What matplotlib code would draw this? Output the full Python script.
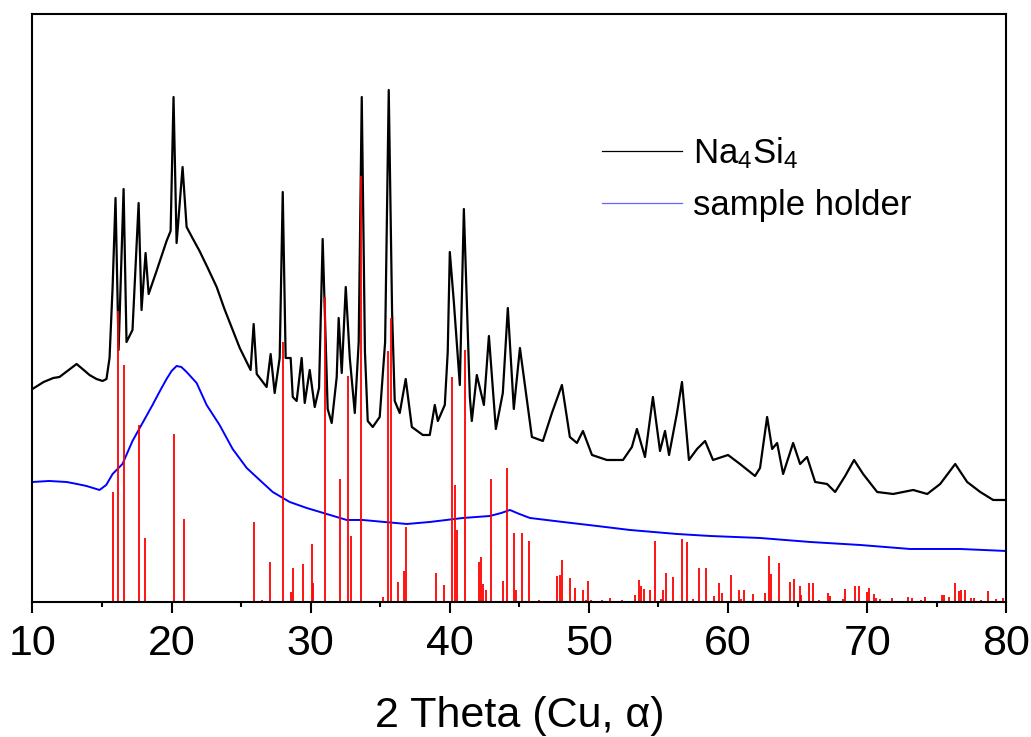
import numpy as np
import matplotlib.pyplot as plt

plt.rcParams['font.family'] = ['Liberation Sans', 'DejaVu Sans']
plt.rcParams['mathtext.fontset'] = 'custom'
plt.rcParams['mathtext.rm'] = 'Liberation Sans'
plt.rcParams['mathtext.it'] = 'Liberation Sans:italic'

# Na4Si4 pattern (2theta, intensity a.u.)
na_tt = [10.0, 10.8, 11.5, 11.94, 12.6, 13.17, 13.6, 14.10, 14.6, 15.04, 15.32,
         15.54, 15.76, 15.97, 16.19, 16.55, 16.76, 17.19, 17.63, 17.84, 18.13,
         18.35, 18.92, 19.64, 19.93, 20.14, 20.36, 20.79, 21.08, 21.5, 22.01,
         22.6, 23.24, 23.8, 24.39, 24.9, 25.40, 25.68, 25.90, 26.12, 26.83,
         27.12, 27.41, 27.77, 27.99, 28.20, 28.56, 28.71, 28.99, 29.35, 29.57,
         29.93, 30.29, 30.6, 30.86, 31.22, 31.51, 31.87, 32.01, 32.23, 32.52,
         32.81, 33.17, 33.45, 33.67, 33.9, 34.10, 34.46, 34.96, 35.35, 35.61,
         35.85, 36.04, 36.40, 36.83, 37.27, 38.06, 38.56, 38.92, 39.14, 39.64,
         39.85, 40.00, 40.29, 40.72, 41.01, 41.44, 41.58, 41.94, 42.45, 42.81,
         43.31, 43.81, 44.17, 44.60, 45.04, 45.40, 45.90, 46.69, 47.34, 48.06,
         48.63, 49.14, 49.57, 50.22, 51.29, 52.45, 53.09, 53.45, 54.03, 54.60,
         55.11, 55.47, 55.76, 56.33, 56.69, 57.19, 57.77, 58.35, 58.92, 60.00,
         60.86, 61.94, 62.30, 62.81, 63.17, 63.53, 63.96, 64.68, 65.18, 65.68,
         66.26, 67.12, 67.70, 68.42, 69.06, 69.71, 70.72, 71.87, 73.31, 74.32,
         75.25, 76.33, 77.19, 78.13, 79.06, 80.0]
na_int = [213, 220, 224, 225, 232, 238, 233, 227, 223, 221, 223,
          244, 315, 404, 252, 413, 260, 272, 399, 292, 349,
          308, 331, 361, 371, 505, 359, 435, 375, 364, 351,
          334, 315, 293, 272, 254, 240, 232, 278, 228, 215,
          248, 209, 244, 410, 244, 244, 205, 201, 244, 199,
          232, 195, 214, 363, 193, 179, 225, 284, 229, 315,
          244, 189, 260, 505, 250, 181, 175, 185, 260, 512,
          290, 201, 189, 223, 175, 167, 167, 197, 181, 197,
          250, 350, 300, 217, 393, 205, 181, 227, 197, 266,
          173, 209, 294, 193, 254, 217, 165, 161, 189, 217,
          165, 159, 171, 147, 142, 142, 155, 173, 145, 205,
          151, 171, 147, 189, 220, 142, 153, 161, 142, 147,
          138, 126, 134, 185, 153, 159, 128, 159, 138, 145,
          120, 118, 110, 126, 142, 128, 110, 108, 112, 108,
          118, 138, 120, 110, 102, 102]

# sample holder
sh_tt = [10.0, 11.2, 12.45, 13.2, 13.88, 14.82, 15.3, 15.76, 16.47, 17.19,
         17.91, 18.63, 19.2, 19.64, 20.0, 20.36, 20.7, 21.08, 21.80, 22.52,
         23.45, 24.39, 25.40, 26.33, 27.27, 28.49, 29.71, 31.15, 32.59, 33.74,
         35.3, 36.91, 38.56, 40.94, 42.88, 43.7, 44.32, 45.0, 45.76, 48.13,
         50.58, 52.95, 56.33, 58.71, 62.30, 65.90, 69.50, 73.09, 76.69, 80.0]
sh_int = [120, 121, 120, 118, 116, 112, 117, 128, 138, 161,
          179, 197, 212, 223, 231, 236, 235, 230, 219, 197,
          177, 153, 134, 122, 110, 100, 94, 88, 82, 82,
          80, 78, 80, 84, 86, 89, 92, 88, 84, 80,
          76, 72, 68, 66, 64, 60, 57, 53, 53, 51]

# reference stick pattern
ref_tt = [15.81, 16.12, 16.60, 17.68, 18.11, 20.18, 20.90, 25.96, 26.50, 27.10,
          28.00, 28.56, 28.70, 29.42, 30.07, 30.20, 31.03, 32.11, 32.66, 32.88,
          33.62, 35.23, 35.59, 35.80, 36.26, 36.72, 36.86, 39.02, 39.55, 40.18,
          40.37, 40.51, 41.12, 42.12, 42.24, 42.36, 42.61, 42.96, 43.82, 44.11,
          44.59, 44.76, 45.17, 45.72, 46.44, 47.71, 47.95, 48.07, 48.64, 49.00,
          49.59, 49.80, 49.95, 50.13, 50.95, 51.14, 51.53, 52.39, 53.28, 53.57,
          53.71, 53.93, 54.36, 54.77, 55.20, 55.35, 55.56, 56.04, 56.69, 57.05,
          57.51, 57.94, 58.44, 59.02, 59.38, 59.60, 60.19, 60.77, 60.96, 61.15,
          61.76, 62.07, 62.65, 62.91, 63.10, 63.65, 63.96, 64.44, 64.75, 65.14,
          65.28, 65.79, 66.12, 66.51, 67.16, 67.32, 67.99, 68.24, 68.43, 69.13,
          69.39, 69.68, 69.79, 69.99, 70.11, 70.47, 70.66, 70.90, 71.33, 71.81,
          72.31, 72.92, 73.23, 73.88, 74.17, 74.53, 74.84, 75.37, 75.56, 75.88,
          76.33, 76.59, 76.76, 77.00, 77.43, 77.68, 77.96, 78.15, 78.69, 79.28,
          79.76]
ref_int = [110, 291, 237, 177, 64, 168, 83, 80, 2, 40,
           260, 10, 34, 38, 58, 19, 305, 123, 226, 66,
           426, 5, 251, 284, 20, 31, 75, 29, 17, 225,
           117, 72, 252, 40, 45, 18, 12, 123, 21, 134,
           69, 12, 69, 61, 2, 26, 27, 42, 24, 14,
           12, 2, 21, 2, 2, 1, 4, 2, 7, 22,
           16, 13, 12, 61, 3, 12, 29, 25, 63, 60,
           3, 34, 34, 6, 19, 9, 27, 12, 3, 12,
           8, 1, 9, 46, 28, 39, 1, 20, 23, 16,
           7, 19, 19, 2, 9, 6, 1, 3, 13, 16,
           16, 1, 1, 10, 14, 8, 4, 3, 1, 4,
           1, 5, 4, 2, 5, 1, 1, 7, 7, 5,
           19, 11, 12, 12, 4, 4, 1, 2, 11, 3,
           4]

fig = plt.figure(figsize=(10.31, 7.37), dpi=100)
ax = fig.add_axes([0.0315, 0.1832, 0.9445, 0.7978])

ax.plot(na_tt, na_int, color='black', lw=1.6, label=r'Na$_4$Si$_4$')
ax.plot(sh_tt, sh_int, color='blue', lw=1.4, label='sample holder')
ax.vlines(ref_tt, 0, ref_int, color='red', lw=1.3)

ax.set_xlim(10, 80)
ax.set_ylim(0, 588)
ax.set_yticks([])
ax.set_xticks(np.arange(10, 81, 10))
ax.set_xticks(np.arange(15, 80, 10), minor=True)
ax.tick_params(axis='x', which='major', direction='out', length=7.6, width=1.5,
               labelsize=31, pad=8)
ax.tick_params(axis='x', which='minor', direction='out', length=3.6, width=1.5)
for s in ax.spines.values():
    s.set_linewidth(1.5)

ax.set_xlabel('2 Theta (Cu, α)', fontsize=31, labelpad=23)

leg = ax.legend(loc='upper left', bbox_to_anchor=(0.584, 0.8166),
                bbox_transform=fig.transFigure, frameon=False, fontsize=25,
                handlelength=2.3, handletextpad=0.32, labelspacing=0.52,
                borderpad=0, borderaxespad=0)
leg.get_lines()[0].set_linewidth(0.9)
leg.get_lines()[1].set_linewidth(0.9)
leg.get_lines()[1].set_alpha(0.6)

fig.savefig('out.png', dpi=100)
